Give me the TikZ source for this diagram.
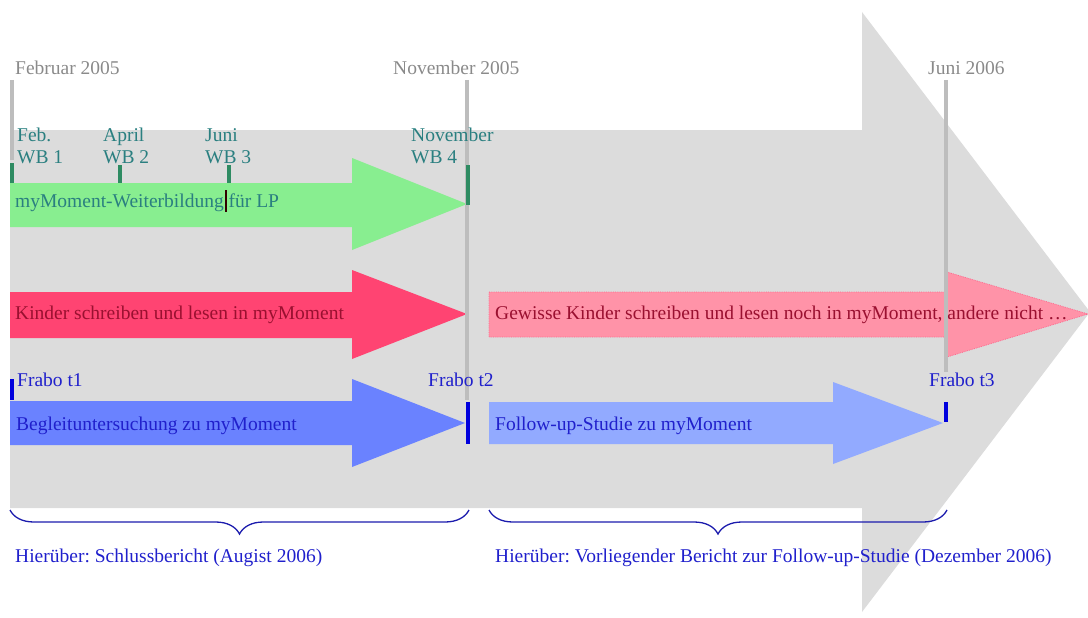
\documentclass[tikz,border=0pt]{standalone}
\usepackage{fontspec}
\setmainfont{Liberation Serif}
\frenchspacing
\usetikzlibrary{decorations.pathreplacing}
\definecolor{biggrey}{HTML}{DCDCDC}
\definecolor{linegrey}{HTML}{BDBDBD}
\definecolor{labelgrey}{HTML}{8A8A8A}
\definecolor{teal2}{HTML}{2A7F80}
\definecolor{tickgreen}{HTML}{2E8B62}
\definecolor{wbgreen}{HTML}{88EE90}
\definecolor{kidred}{HTML}{FF4472}
\definecolor{kidpink}{HTML}{FF93A8}
\definecolor{darkred}{HTML}{9A1030}
\definecolor{studyblue}{HTML}{6A82FF}
\definecolor{followblue}{HTML}{92AAFF}
\definecolor{textblue}{HTML}{2020CC}
\definecolor{tickblue}{HTML}{0000DD}
\begin{document}
\begin{tikzpicture}[x=1pt,y=-1pt]
\tikzset{every node/.style={font=\fontsize{19.5}{23}\selectfont,inner sep=0pt,anchor=base west},
         month/.style={text=labelgrey},
         wb/.style={text=teal2,align=left},
         timeline/.style={linegrey,line width=4pt},
         wbtick/.style={tickgreen,line width=4.5pt},
         frabotick/.style={tickblue,line width=4.5pt},
         bracket/.style={draw=textblue!85!black,line width=1.3pt,decorate,
                         decoration={brace,amplitude=24pt,aspect=0.5}}}
\useasboundingbox (0,0) rectangle (1088,618);
% big time arrow
\fill[biggrey] (10,130) -- (862,130) -- (862,12) -- (1090,312)
    -- (862,612) -- (862,508) -- (10,508) -- cycle;
% arrows
\fill[wbgreen] (10,183) -- (352,183) -- (352,158) -- (467,204)
    -- (352,250) -- (352,227) -- (10,227) -- cycle;
\fill[kidred] (10,292) -- (352,292) -- (352,270) -- (467,314)
    -- (352,359) -- (352,338) -- (10,338) -- cycle;
\filldraw[fill=kidpink,draw=kidred!80,densely dotted,line width=0.8pt]
    (489,292) -- (947,292) -- (947,272) -- (1088,314)
    -- (947,357) -- (947,337) -- (489,337) -- cycle;
\fill[studyblue] (10,401) -- (352,401) -- (352,379) -- (465,423)
    -- (352,467) -- (352,445) -- (10,445) -- cycle;
\fill[followblue] (489,402) -- (833,402) -- (833,382) -- (943,423)
    -- (833,464) -- (833,444) -- (489,444) -- cycle;
% time lines
\draw[timeline] (12,80) -- (12,160);
\draw[timeline] (467,80) -- (467,400);
\draw[timeline] (946,80) -- (946,372);
\node[month] (feb05) at (15,75) {Februar 2005};
\node[month] (nov05) at (393,75) {November 2005};
\node[month] (jun06) at (928,75) {Juni 2006};
% Weiterbildung
\draw[wbtick] (12,163) -- (12,183);
\draw[wbtick] (120,165) -- (120,183);
\draw[wbtick] (229,165) -- (229,183);
\draw[wbtick] (468,165) -- (468,205);
\node[wb] (wb1) at (17,164) {Feb.\\WB 1};
\node[wb] (wb2) at (103,164) {April\\WB 2};
\node[wb] (wb3) at (205,164) {Juni\\WB 3};
\node[wb] (wb4) at (411,164) {November\\WB 4};
\node[text=teal2] (wbtext) at (15,207) {myMoment-Weiterbildung für LP};
\draw[black!80!red,line width=1.4pt] (226,190) -- (226,212);
% Kinder
\node[text=darkred] (kids) at (15,319) {Kinder schreiben und lesen in myMoment};
\node[text=darkred] (somekids) at (495,319) {Gewisse Kinder schreiben und lesen noch in myMoment, andere nicht \dots};
% Fragebogen
\draw[frabotick] (12,379) -- (12,400);
\draw[frabotick] (468,402) -- (468,444);
\draw[frabotick] (946,402) -- (946,422);
\node[text=textblue] (t1) at (17,386) {Frabo t1};
\node[text=textblue] (t2) at (428,386) {Frabo t2};
\node[text=textblue] (t3) at (929,386) {Frabo t3};
\node[text=textblue] (study) at (16,430) {Begleituntersuchung zu myMoment};
\node[text=textblue] (follow) at (495,430) {Follow-up-Studie zu myMoment};
% Berichte
\coordinate (b1l) at (10,510);
\coordinate (b1r) at (469,510);
\coordinate (b2l) at (489,510);
\coordinate (b2r) at (947,510);
\draw[bracket] (b1r) -- (b1l);
\draw[bracket] (b2r) -- (b2l);
\node[text=textblue] (report1) at (15,562) {Hierüber: Schlussbericht (Augist 2006)};
\node[text=textblue] (report2) at (495,562) {Hierüber: Vorliegender Bericht zur Follow-up-Studie (Dezember 2006)};
\end{tikzpicture}
\end{document}
